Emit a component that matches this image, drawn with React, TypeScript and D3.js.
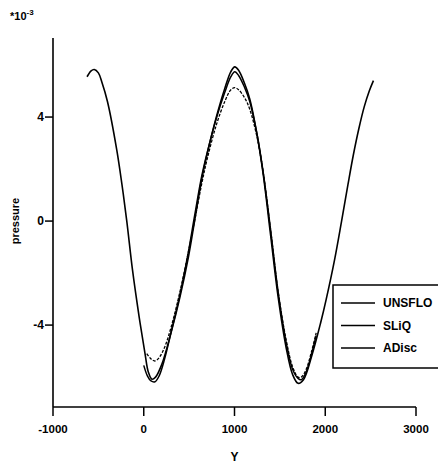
import React from "react";
import * as d3 from "d3";

const xTicks = [-1000, 0, 1000, 2000, 3000];
const yTicks = [-4, 0, 4];
const seriesNames = ["UNSFLO", "SLiQ", "ADisc"];

const unsfloX = [-625, -580, -545, -500, -462, -400, -297, -240, -187, -124, -50, 14, 50, 90, 130, 200, 300, 400, 491, 560, 637, 700, 800, 893, 960, 1003, 1045, 1110, 1168, 1250, 1315, 1400, 1480, 1571, 1640, 1700, 1760, 1850, 1950, 2011, 2102, 2180, 2250, 2310, 2370, 2430, 2485, 2531];
const unsfloY = [5.55, 5.78, 5.83, 5.7, 5.35, 4.6, 2.73, 1.4, 0.0, -1.88, -3.7, -5.1, -5.8, -6.08, -6.0, -5.5, -4.3, -2.9, -1.4, 0.0, 1.58, 2.6, 4.0, 5.1, 5.75, 5.93, 5.8, 5.3, 4.7, 3.3, 1.83, -0.6, -2.9, -4.9, -5.9, -6.24, -6.1, -5.2, -3.9, -3.0, -1.5, 0.0, 1.4, 2.55, 3.55, 4.4, 5.0, 5.4];

const sliqX = [0, 40, 80, 124, 170, 230, 300, 400, 491, 560, 637, 700, 800, 893, 960, 1003, 1045, 1110, 1168, 1250, 1315, 1400, 1480, 1571, 1640, 1700, 1736, 1790, 1850, 1900];
const sliqY = [-5.55, -5.95, -6.15, -6.18, -5.95, -5.3, -4.3, -2.8, -1.2, 0.2, 1.7, 2.65, 3.95, 4.95, 5.55, 5.74, 5.6, 5.15, 4.6, 3.3, 1.9, -0.4, -2.7, -4.7, -5.7, -6.05, -6.1, -5.8, -5.1, -4.4];

const adiscX = [33, 80, 124, 170, 230, 300, 400, 491, 560, 637, 700, 800, 893, 960, 1003, 1045, 1110, 1168, 1250, 1315, 1400, 1480, 1571, 1640, 1700, 1736, 1790, 1850, 1900];
const adiscY = [-5.1, -5.3, -5.38, -5.25, -4.85, -4.1, -2.7, -1.2, 0.0, 1.4, 2.4, 3.7, 4.6, 5.05, 5.13, 5.05, 4.75, 4.3, 3.2, 1.9, -0.4, -2.7, -4.6, -5.6, -6.0, -6.0, -5.7, -5.0, -4.3];

const font = "'Liberation Sans', Arial, sans-serif";

export default function App() {
  const x = d3.scaleLinear().domain([-1000, 3000]).range([53, 416]);
  const y = d3.scaleLinear().domain([-7.15, 7.04]).range([407, 38]);
  const line = d3
    .line<[number, number]>()
    .x((d) => x(d[0]))
    .y((d) => y(d[1]))
    .curve(d3.curveCatmullRom.alpha(0.5));
  const zip = (xs: number[], ys: number[]) => xs.map((v, i) => [v, ys[i]] as [number, number]);
  const series = [
    { name: "UNSFLO", d: zip(unsfloX, unsfloY), dash: undefined as string | undefined, w: 1.6 },
    { name: "SLiQ", d: zip(sliqX, sliqY), dash: undefined, w: 1.5 },
    { name: "ADisc", d: zip(adiscX, adiscY), dash: "3,1.5", w: 1.3 },
  ];
  const x0 = x(-1000);
  const yBase = y(-7.15);
  return (
    <svg width={438} height={464} style={{ position: "absolute", left: 0, top: 0, background: "#fff" }}>
      <rect width={438} height={464} fill="#fff" />
      <g fontFamily={font} fontWeight="bold" fill="#000">
        <text x={10} y={20} fontSize={11}>
          *10<tspan dy={-5} fontSize={8}>-3</tspan>
        </text>
        <text transform={`translate(19,${y(0)}) rotate(-90)`} textAnchor="middle" fontSize={11}>
          pressure
        </text>
        <text x={(x(0) + x(2000)) / 2} y={461} textAnchor="middle" fontSize={12}>
          Y
        </text>
        {yTicks.map((t) => (
          <g key={t}>
            <line x1={x0 - 8} x2={x0} y1={y(t)} y2={y(t)} stroke="#000" strokeWidth={1.5} />
            <text x={x0 - 9} y={y(t) + 4} textAnchor="end" fontSize={12}>
              {t}
            </text>
          </g>
        ))}
        {xTicks.map((t) => (
          <g key={t}>
            <line x1={x(t)} x2={x(t)} y1={yBase} y2={yBase + 9} stroke="#000" strokeWidth={1.5} />
            <text x={x(t)} y={433} textAnchor="middle" fontSize={11.5}>
              {t}
            </text>
          </g>
        ))}
      </g>
      <line x1={x0} x2={x0} y1={38} y2={yBase} stroke="#000" strokeWidth={1.6} />
      <line x1={x0} x2={x(3000)} y1={yBase} y2={yBase} stroke="#000" strokeWidth={1.6} />
      {series.map((s) => (
        <path key={s.name} d={line(s.d) || ""} fill="none" stroke="#000" strokeWidth={s.w} strokeDasharray={s.dash} />
      ))}
      <rect x={333} y={285} width={110} height={83} fill="#fff" stroke="#000" strokeWidth={1.5} />
      {seriesNames.map((n, i) => (
        <g key={n}>
          <line x1={341} x2={375} y1={303 + i * 22.5} y2={303 + i * 22.5} stroke="#000" strokeWidth={1.3} />
          <text x={383} y={307 + i * 22.5} fontFamily={font} fontWeight="bold" fontSize={12}>
            {n}
          </text>
        </g>
      ))}
    </svg>
  );
}
